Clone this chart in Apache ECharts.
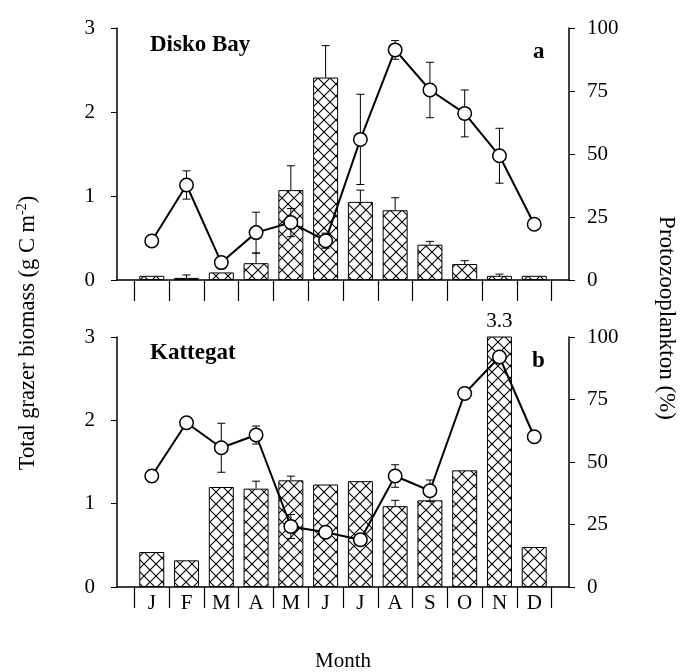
<!DOCTYPE html>
<html>
<head>
<meta charset="utf-8">
<script src="https://cdn.jsdelivr.net/npm/echarts@6/dist/echarts.min.js"></script>
<style>
html, body { margin: 0; padding: 0; background: #fff; }
#main { width: 685px; height: 672px; }
</style>
</head>
<body>
<div id="main"></div>
<script>
// months on the x axis
var months = ['J', 'F', 'M', 'A', 'M', 'J', 'J', 'A', 'S', 'O', 'N', 'D'];

// a: Disko Bay
var diskoBiomass    = [0.05, 0.025, 0.09, 0.2, 1.07, 2.41, 0.93, 0.83, 0.42, 0.19, 0.05, 0.05];
var diskoBiomassErr = [0, 0.035, 0, 0.12, 0.29, 0.38, 0.14, 0.15, 0.04, 0.04, 0.02, 0];
var diskoProto      = [15.5, 37.7, 6.9, 18.8, 22.8, 15.6, 55.8, 91.3, 75.4, 66.1, 49.3, 22.1];
var diskoProtoErr   = [0, 5.6, 0, 8.1, 5.6, 3, 17.9, 3.7, 11, 9.3, 10.9, 0];

// b: Kattegat
var kattBiomass    = [0.42, 0.32, 1.2, 1.18, 1.28, 1.23, 1.27, 0.97, 1.04, 1.4, 3.3, 0.48];
var kattBiomassErr = [0, 0, 0, 0.09, 0.05, 0, 0, 0.07, 0, 0, 0, 0];
var kattProto      = [44.4, 65.7, 55.7, 60.8, 24.2, 21.9, 18.9, 44.4, 38.5, 77.4, 92, 60.1];
var kattProtoErr   = [0, 0, 9.8, 3.6, 4.8, 0, 0, 4.5, 4.3, 0, 0, 0];

var biomassMax = 3;
var protoMax = 100;

var FONT = 'Liberation Serif';

// cross hatch fill for the bars
function hatch() {
    var c = document.createElement('canvas');
    c.width = 12; c.height = 12;
    var g = c.getContext('2d');
    g.fillStyle = '#fff';
    g.fillRect(0, 0, 12, 12);
    g.strokeStyle = '#000';
    g.lineWidth = 1.1;
    g.beginPath();
    g.moveTo(-1, -1); g.lineTo(13, 13);
    g.moveTo(13, -1); g.lineTo(-1, 13);
    g.stroke();
    return c;
}
var hatchImg = hatch();

function pairs(vals) {
    return vals.map(function (v, i) { return [i, v]; });
}

// error bars, upper only for bars, both ways for the line
function errorBars(gi, yi, vals, errs, both) {
    var data = [];
    vals.forEach(function (v, i) {
        if (errs[i] > 0) data.push([i, v, errs[i]]);
    });
    return {
        type: 'custom',
        xAxisIndex: gi,
        yAxisIndex: yi,
        z: both ? 3 : 2,
        silent: true,
        data: data,
        encode: { x: 0, y: 1 },
        renderItem: function (params, api) {
            var x = api.value(0), v = api.value(1), e = api.value(2);
            var hi = api.coord([x, v + e]);
            var lo = api.coord([x, both ? v - e : v]);
            var w = 4;
            var st = { stroke: '#000', lineWidth: 1 };
            var kids = [
                { type: 'line', shape: { x1: hi[0], y1: hi[1], x2: lo[0], y2: lo[1] }, style: st },
                { type: 'line', shape: { x1: hi[0] - w, y1: hi[1], x2: hi[0] + w, y2: hi[1] }, style: st }
            ];
            if (both) {
                kids.push({ type: 'line', shape: { x1: lo[0] - w, y1: lo[1], x2: lo[0] + w, y2: lo[1] }, style: st });
            }
            return { type: 'group', children: kids };
        }
    };
}

var boundaries = [];
for (var b = 0; b <= 12; b++) boundaries.push(b - 0.5);
var centers = months.map(function (m, i) { return i; });

function xAxisFor(gi, labels) {
    return {
        type: 'value',
        gridIndex: gi,
        min: -1,
        max: 12,
        splitLine: { show: false },
        axisLine: { onZero: false, lineStyle: { color: '#000', width: 1.5 } },
        axisTick: { show: true, customValues: boundaries, length: 21, lineStyle: { color: '#000', width: 1.2 } },
        axisLabel: labels ? {
            customValues: centers,
            formatter: function (v) { return months[Math.round(v)]; },
            margin: 6,
            fontSize: 21,
            fontFamily: FONT,
            color: '#000'
        } : { show: false }
    };
}

function yLeft(gi) {
    return {
        type: 'value', gridIndex: gi, position: 'left',
        min: 0, max: biomassMax, interval: 1,
        splitLine: { show: false },
        axisLine: { show: true, onZero: false, lineStyle: { color: '#000', width: 1.5 } },
        axisTick: { show: true, length: 6, lineStyle: { color: '#000' } },
        axisLabel: { margin: 22, fontSize: 21, fontFamily: FONT, color: '#000' }
    };
}

function yRight(gi) {
    return {
        type: 'value', gridIndex: gi, position: 'right',
        min: 0, max: protoMax, interval: 25,
        splitLine: { show: false },
        axisLine: { show: true, onZero: false, lineStyle: { color: '#000', width: 1.5 } },
        axisTick: { show: true, length: 6, lineStyle: { color: '#000' } },
        axisLabel: { margin: 18, fontSize: 21, fontFamily: FONT, color: '#000' }
    };
}

function barSeries(gi, yi, vals, extra) {
    var s = {
        type: 'bar',
        xAxisIndex: gi,
        yAxisIndex: yi,
        barWidth: 25,
        z: 1,
        data: pairs(vals),
        itemStyle: {
            color: { image: hatchImg, repeat: 'repeat' },
            borderColor: '#000',
            borderWidth: 1
        }
    };
    if (extra) s.markPoint = extra;
    return s;
}

function lineSeries(gi, yi, vals) {
    return {
        type: 'line',
        xAxisIndex: gi,
        yAxisIndex: yi,
        z: 4,
        data: pairs(vals),
        symbol: 'circle',
        symbolSize: 13.5,
        showAllSymbol: true,
        lineStyle: { color: '#000', width: 2 },
        itemStyle: { color: '#fff', borderColor: '#000', borderWidth: 1.5 }
    };
}

// the November Kattegat bar is off the scale, its value is written above it
var offScale = [];
kattBiomass.forEach(function (v, i) {
    if (v > biomassMax) offScale.push({ coord: [i, biomassMax], value: v });
});

var chart = echarts.init(document.getElementById('main'));

chart.setOption({
    animation: false,
    backgroundColor: '#fff',
    title: [
        { text: 'Disko Bay', left: 150, top: 34, padding: 0, textStyle: { fontFamily: FONT, fontWeight: 'bold', fontSize: 23, color: '#000' } },
        { text: 'a', left: 533, top: 41, padding: 0, textStyle: { fontFamily: FONT, fontWeight: 'bold', fontSize: 23, color: '#000' } },
        { text: 'Kattegat', left: 150, top: 342, padding: 0, textStyle: { fontFamily: FONT, fontWeight: 'bold', fontSize: 23, color: '#000' } },
        { text: 'b', left: 532, top: 350, padding: 0, textStyle: { fontFamily: FONT, fontWeight: 'bold', fontSize: 23, color: '#000' } }
    ],
    grid: [
        { left: 117, right: 116, top: 28, height: 252, containLabel: false, outerBoundsMode: 'none' },
        { left: 117, right: 116, top: 337, height: 250, containLabel: false, outerBoundsMode: 'none' }
    ],
    xAxis: [xAxisFor(0, false), xAxisFor(1, true)],
    yAxis: [yLeft(0), yRight(0), yLeft(1), yRight(1)],
    series: [
        barSeries(0, 0, diskoBiomass),
        errorBars(0, 0, diskoBiomass, diskoBiomassErr, false),
        errorBars(0, 1, diskoProto, diskoProtoErr, true),
        lineSeries(0, 1, diskoProto),

        barSeries(1, 2, kattBiomass, {
            symbol: 'circle',
            symbolSize: 0,
            silent: true,
            label: { show: true, position: 'top', distance: 5, formatter: '{c}', fontSize: 21, fontFamily: FONT, color: '#000' },
            data: offScale
        }),
        errorBars(1, 2, kattBiomass, kattBiomassErr, false),
        errorBars(1, 3, kattProto, kattProtoErr, true),
        lineSeries(1, 3, kattProto)
    ],
    graphic: [
        {
            type: 'text', x: 28, y: 333, rotation: Math.PI / 2,
            style: {
                text: 'Total grazer biomass (g C m{sup|-2})',
                fontSize: 22.5, fontFamily: FONT, fill: '#000',
                align: 'center', verticalAlign: 'middle',
                textAlign: 'center', textVerticalAlign: 'middle',
                rich: { sup: { fontSize: 14, fontFamily: FONT, fill: '#000', padding: [0, 0, 12, 0] } }
            }
        },
        {
            type: 'text', x: 666, y: 318, rotation: -Math.PI / 2,
            style: {
                text: 'Protozooplankton (%)',
                fontSize: 23, fontFamily: FONT, fill: '#000',
                align: 'center', verticalAlign: 'middle',
                textAlign: 'center', textVerticalAlign: 'middle'
            }
        },
        {
            type: 'text', x: 343, y: 661,
            style: {
                text: 'Month',
                fontSize: 21, fontFamily: FONT, fill: '#000',
                align: 'center', verticalAlign: 'middle',
                textAlign: 'center', textVerticalAlign: 'middle'
            }
        }
    ]
});
</script>
</body>
</html>
